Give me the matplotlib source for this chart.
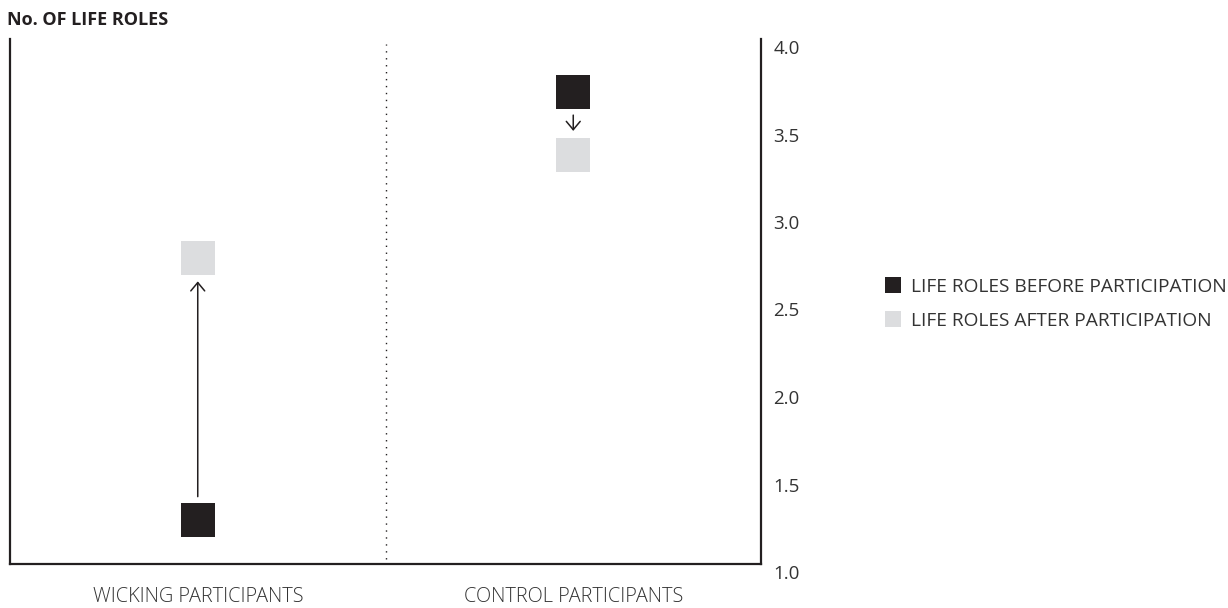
import matplotlib.pyplot as plt
from matplotlib.lines import Line2D
from matplotlib.transforms import ScaledTranslation

# data
groups = ["WICKING PARTICIPANTS", "CONTROL PARTICIPANTS"]
before = [1.25, 3.70]
after = [2.75, 3.34]
yticks = [1.0, 1.5, 2.0, 2.5, 3.0, 3.5, 4.0]

dark = "#231f20"
light = "#dcdddf"
plt.rcParams["font.family"] = ["Open Sans", "DejaVu Sans"]

fig = plt.figure(figsize=(12.28, 6.08), dpi=100)
ax = fig.add_axes([10 / 1228, 1 - 564 / 608, 751 / 1228, 525 / 608])

xpos = [0.5, 1.5]
ax.plot(xpos, before, ls="none", marker="s", ms=23.8, mew=0, color=dark)
ax.plot(xpos, after, ls="none", marker="s", ms=23.8, mew=0, color=light)

# arrows from before to after
for x, b, a in zip(xpos, before, after):
    ax.annotate("", xy=(x, a), xytext=(x, b),
                arrowprops=dict(arrowstyle="->,head_length=0.6,head_width=0.5",
                                color=dark, lw=1.1, shrinkA=17, shrinkB=17,
                                mutation_scale=10))

# dotted divider
ax.axvline(1.0, ymin=0.01, ymax=0.99, color=dark, lw=1, dashes=(1, 4))

ax.set_xlim(0, 2)
ax.set_ylim(1.0, 4.0)
ax.set_xticks([])
ax.yaxis.tick_right()
ax.set_yticks(yticks)
ax.set_yticklabels([f"{v:.1f}" for v in yticks])
ax.tick_params(axis="y", length=0, pad=9, labelsize=13.5, labelcolor="#333333")
off = ScaledTranslation(0, -8 / 100, fig.dpi_scale_trans)
for lab in ax.get_yticklabels():
    lab.set_transform(lab.get_transform() + off)

for side in ["left", "right", "bottom"]:
    ax.spines[side].set_linewidth(1.6)
    ax.spines[side].set_color(dark)
ax.spines["top"].set_visible(False)

for x, g in zip(xpos, groups):
    ax.text(x, -33 / 525, g, transform=ax.get_xaxis_transform(), ha="center",
            va="center", fontsize=14.3, color="#333333", fontweight="light")

fig.text(7 / 1228, 1 - 20 / 608, "No. OF LIFE ROLES", fontsize=13, fontweight="bold",
         ha="left", va="center", color=dark)

handles = [Line2D([], [], ls="none", marker="s", ms=12.2, mew=0, color=dark),
           Line2D([], [], ls="none", marker="s", ms=12.2, mew=0, color=light)]
fig.legend(handles, ["LIFE ROLES BEFORE PARTICIPATION", "LIFE ROLES AFTER PARTICIPATION"],
           loc="center left", bbox_to_anchor=(866 / 1228, 1 - 304 / 608),
           frameon=False, fontsize=13.8, handlelength=1.0, handletextpad=0.45,
           labelspacing=0.85, labelcolor="#333333")

fig.savefig("out.png", dpi=100)
